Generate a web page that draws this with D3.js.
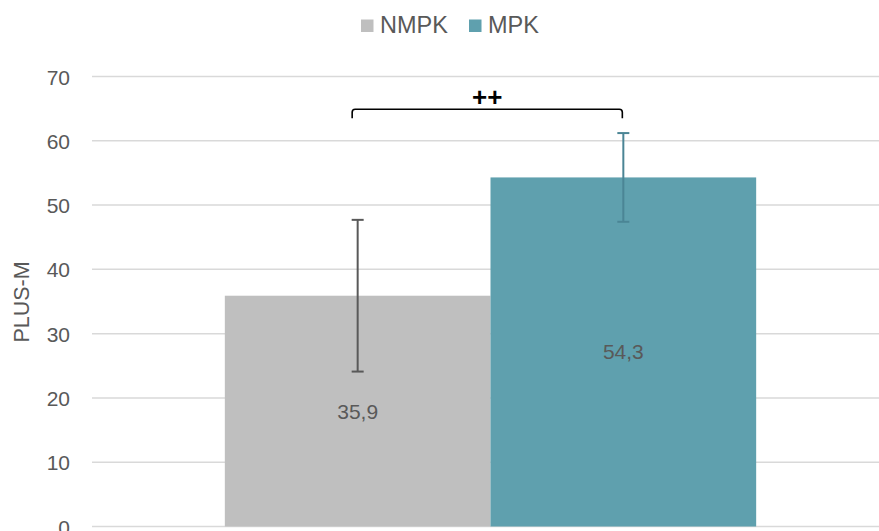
<!DOCTYPE html>
<html>
<head>
<meta charset="utf-8">
<script src="https://cdn.jsdelivr.net/npm/d3@7"></script>
<style>
  html, body { margin: 0; padding: 0; background: #fff; }
  svg { display: block; font-family: "Liberation Sans", Arial, sans-serif; }
</style>
</head>
<body>
<svg id="chart" width="879" height="531"></svg>
<script>
// ---- data ----
const categories = [""];
const seriesNames = ["NMPK", "MPK"];
const seriesValues = [35.9, 54.3];
const errLow = [24.1, 47.4];
const errHigh = [47.7, 61.2];
const valueLabels = ["35,9", "54,3"];
const yTicks = [0, 10, 20, 30, 40, 50, 60, 70];
const axisTitle = "PLUS-M";
const sigLabel = "++";
const sigBracket = { level: 64.9, drop: 63.5 };

const colors = ["#BFBFBF", "#5FA0AE"];
const errColors = ["#595959", "#4B8595"];

const W = 879, H = 531;
const plot = { left: 92, right: 889, top: 76.5, bottom: 526.5 };

const svg = d3.select("#chart");

const y = d3.scaleLinear().domain([0, 70]).range([plot.bottom, plot.top]);
const x0 = d3.scaleBand().domain(categories).range([plot.left, plot.right]).paddingInner(0).paddingOuter(0.25);
const x1 = d3.scaleBand().domain(seriesNames).range([0, x0.bandwidth()]).padding(0);

// gridlines
svg.append("g").selectAll("line").data(yTicks).join("line")
  .attr("x1", plot.left).attr("x2", W)
  .attr("y1", d => y(d)).attr("y2", d => y(d))
  .attr("stroke", "#D9D9D9").attr("stroke-width", 1.5);

// y axis labels
const yAxis = d3.axisLeft(y).tickValues(yTicks).tickSize(0).tickPadding(0).tickFormat(d3.format("d"));
const gy = svg.append("g").attr("transform", `translate(70,0)`).call(yAxis);
gy.select(".domain").remove();
gy.selectAll("text").attr("fill", "#595959").style("font-size", "21px")
  .style("font-family", "'Liberation Sans', Arial, sans-serif").attr("dy", "0.36em");

// axis title
svg.append("text")
  .attr("transform", `translate(29,${(260 + 344) / 2}) rotate(-90)`)
  .attr("text-anchor", "middle")
  .attr("fill", "#595959").style("font-size", "21.5px")
  .text(axisTitle);

const data = seriesNames.map((s, i) => ({ s, i, v: seriesValues[i], lo: errLow[i], hi: errHigh[i], lab: valueLabels[i] }));
const g = svg.append("g").attr("transform", `translate(${x0(categories[0])},0)`);

// bars
g.selectAll("rect.bar").data(data).join("rect")
  .attr("class", "bar")
  .attr("x", d => x1(d.s)).attr("width", x1.bandwidth())
  .attr("y", d => y(d.v)).attr("height", d => y(0) - y(d.v))
  .attr("fill", (d, i) => colors[i]);

// error bars
const cx = d => x1(d.s) + x1.bandwidth() / 2;
const eb = g.selectAll("g.err").data(data).join("g").attr("class", "err")
  .attr("stroke", (d, i) => errColors[i]).attr("stroke-width", 2);
eb.append("line").attr("x1", cx).attr("x2", cx).attr("y1", d => y(d.lo)).attr("y2", d => y(d.hi));
eb.append("line").attr("x1", d => cx(d) - 6).attr("x2", d => cx(d) + 6).attr("y1", d => y(d.lo)).attr("y2", d => y(d.lo));
eb.append("line").attr("x1", d => cx(d) - 6).attr("x2", d => cx(d) + 6).attr("y1", d => y(d.hi)).attr("y2", d => y(d.hi));

// value labels
g.selectAll("text.val").data(data).join("text")
  .attr("class", "val")
  .attr("x", cx)
  .attr("y", d => y(d.v / 2) + 7.5)
  .attr("text-anchor", "middle")
  .attr("fill", "#595959").style("font-size", "21px")
  .text(d => d.lab);

// significance bracket
const bx1 = cx(data[0]) - 5.5, bx2 = cx(data[1]) - 1;
g.append("path")
  .attr("d", `M${bx1},${y(sigBracket.drop)} L${bx1},${y(sigBracket.level) + 3} Q${bx1},${y(sigBracket.level)} ${bx1 + 3},${y(sigBracket.level)} L${bx2 - 3},${y(sigBracket.level)} Q${bx2},${y(sigBracket.level)} ${bx2},${y(sigBracket.level) + 3} L${bx2},${y(sigBracket.drop)}`)
  .attr("fill", "none").attr("stroke", "#000").attr("stroke-width", 1.6);
g.append("text")
  .attr("x", (bx1 + bx2) / 2).attr("y", y(sigBracket.level) - 3.5)
  .attr("text-anchor", "middle").attr("fill", "#000")
  .style("font-size", "26px").style("font-weight", "bold")
  .text(sigLabel);

// legend
const leg = svg.append("g");
const legX = [361, 469];
seriesNames.forEach((s, i) => {
  leg.append("rect").attr("x", legX[i]).attr("y", 19.5).attr("width", 12.5).attr("height", 12.5).attr("fill", colors[i]);
  leg.append("text").attr("x", legX[i] + 19).attr("y", 33)
    .attr("fill", "#595959").style("font-size", "23.5px").text(s);
});
</script>
</body>
</html>
